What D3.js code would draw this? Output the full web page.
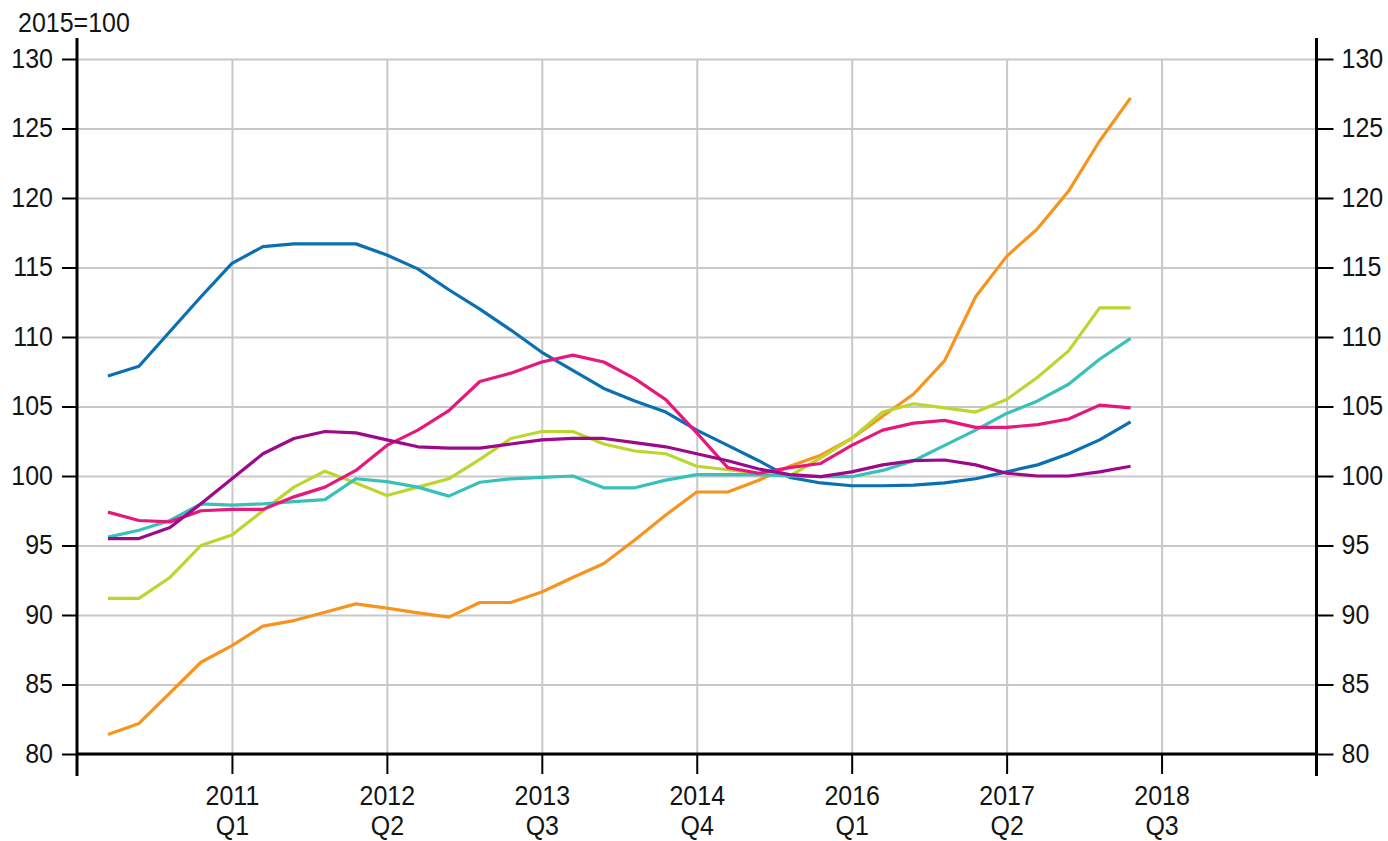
<!DOCTYPE html>
<html>
<head>
<meta charset="utf-8">
<script src="https://cdn.jsdelivr.net/npm/d3@7"></script>
<style>
  body { margin: 0; background: #fff; }
  text { font-family: "Liberation Sans", Arial, sans-serif; fill: #141414; }
</style>
</head>
<body>
<svg id="chart" width="1388" height="841"></svg>
<script>
// --- data: quarterly index, 2015=100 (2010Q1 .. 2018Q2) ---
const quarters = [];
for (let yr = 2010; yr <= 2018; yr++) {
  for (let q = 1; q <= 4; q++) {
    if (yr === 2018 && q > 2) break;
    quarters.push(yr + "Q" + q);
  }
}

const tickIdx = [4, 9, 14, 19, 24, 29, 34];
const tickYears = ["2011", "2012", "2013", "2014", "2016", "2017", "2018"];
const tickQtrs = ["Q1", "Q2", "Q3", "Q4", "Q1", "Q2", "Q3"];
const yTicks = [80, 85, 90, 95, 100, 105, 110, 115, 120, 125, 130];

const blueVals = [107.2,107.9,110.4,112.9,115.3,116.5,116.7,116.7,116.7,115.9,
  114.9,113.4,112.0,110.5,108.9,107.6,106.3,105.4,104.6,103.3,
  102.2,101.1,99.9,99.5,99.3,99.3,99.35,99.5,99.8,100.3,
  100.8,101.6,102.6,103.9];
const orangeVals = [81.4,82.2,84.4,86.6,87.8,89.2,89.6,90.2,90.8,90.5,
  90.15,89.85,90.9,90.9,91.65,92.7,93.7,95.4,97.2,98.85,
  98.85,99.7,100.7,101.5,102.7,104.3,105.9,108.3,112.9,115.8,
  117.8,120.5,124.1,127.2];
const limeVals = [91.2,91.2,92.7,95.0,95.75,97.5,99.2,100.35,99.5,98.6,
  99.2,99.8,101.2,102.7,103.2,103.2,102.3,101.8,101.6,100.7,
  100.45,100.2,100.0,101.3,102.7,104.6,105.2,104.9,104.6,105.5,
  107.1,109.0,112.1,112.1];
const tealVals = [95.6,96.1,96.8,98.0,97.9,98.0,98.15,98.3,99.8,99.6,
  99.2,98.55,99.55,99.8,99.9,100.0,99.15,99.15,99.7,100.1,
  100.1,100.1,100.0,99.95,99.95,100.4,101.1,102.2,103.3,104.5,
  105.4,106.6,108.4,109.9];
const pinkVals = [97.4,96.8,96.7,97.5,97.6,97.6,98.5,99.2,100.4,102.2,
  103.3,104.7,106.8,107.4,108.2,108.7,108.2,107.0,105.5,103.1,
  100.6,100.2,100.6,100.9,102.2,103.3,103.8,104.0,103.5,103.5,
  103.7,104.1,105.1,104.9];
const purpleVals = [95.5,95.5,96.3,98.0,99.8,101.6,102.7,103.2,103.1,102.6,
  102.1,102.0,102.0,102.3,102.6,102.7,102.7,102.4,102.1,101.6,
  101.1,100.5,100.1,99.95,100.3,100.8,101.1,101.15,100.8,100.2,
  100.0,100.0,100.3,100.7];

const seriesList = [
  { vals: blueVals,   color: "#0a70b2" },
  { vals: orangeVals, color: "#f7941e" },
  { vals: limeVals,   color: "#bdd52f" },
  { vals: tealVals,   color: "#38c0ba" },
  { vals: pinkVals,   color: "#e6187b" },
  { vals: purpleVals, color: "#9c0a8b" }
];

// --- layout ---
const plotL = 77, plotR = 1316.5, plotT = 59, plotB = 754;
const svg = d3.select("#chart");

const x = d3.scaleLinear().domain([-1, 39]).range([plotL, plotR]);
const y = d3.scaleLinear().domain([80, 130]).range([plotB, plotT]);

// reference glyphs are a little taller than wide
const stretch = "scale(1,1.12)";

// gridlines
svg.append("g")
  .attr("transform", `translate(${plotL},0)`)
  .call(d3.axisLeft(y).tickValues(yTicks).tickSize(-(plotR - plotL)).tickFormat(""))
  .call(g => g.select(".domain").remove())
  .call(g => g.selectAll("line").attr("stroke", "#c8c8c8").attr("stroke-width", 2));

svg.append("g")
  .attr("transform", `translate(0,${plotB})`)
  .call(d3.axisBottom(x).tickValues(tickIdx).tickSize(-(plotB - plotT)).tickFormat(""))
  .call(g => g.select(".domain").remove())
  .call(g => g.selectAll("line").attr("stroke", "#c8c8c8").attr("stroke-width", 2));

// lines
const line = d3.line()
  .x((d, i) => x(i))
  .y(d => y(d));

svg.append("g").selectAll("path")
  .data(seriesList)
  .join("path")
  .attr("d", d => line(d.vals))
  .attr("fill", "none")
  .attr("stroke", d => d.color)
  .attr("stroke-width", 3.2)
  .attr("stroke-linejoin", "round");

// left axis
svg.append("g")
  .attr("transform", `translate(${plotL},0)`)
  .call(d3.axisLeft(y).tickValues(yTicks).tickSize(15).tickPadding(9))
  .call(g => g.select(".domain").remove())
  .call(g => g.selectAll("line").attr("stroke", "#000").attr("stroke-width", 2))
  .call(g => g.selectAll("text")
    .attr("font-size", "25px").attr("dy", "0.3em").attr("transform", stretch));

// right axis
svg.append("g")
  .attr("transform", `translate(${plotR},0)`)
  .call(d3.axisRight(y).tickValues(yTicks).tickSize(17).tickPadding(8))
  .call(g => g.select(".domain").remove())
  .call(g => g.selectAll("line").attr("stroke", "#000").attr("stroke-width", 2))
  .call(g => g.selectAll("text")
    .attr("font-size", "25px").attr("dy", "0.3em").attr("transform", stretch));

// bottom axis with two-line labels
svg.append("g")
  .attr("transform", `translate(0,${plotB})`)
  .call(d3.axisBottom(x).tickValues(tickIdx).tickSize(20).tickFormat(""))
  .call(g => g.select(".domain").remove())
  .call(g => g.selectAll("line").attr("stroke", "#000").attr("stroke-width", 2))
  .call(g => g.selectAll(".tick").each(function (d, i) {
    const t = d3.select(this).append("text")
      .attr("text-anchor", "middle")
      .attr("font-size", "25px")
      .attr("transform", stretch);
    t.append("tspan").attr("x", 0).attr("y", 45.5).text(tickYears[i]);
    t.append("tspan").attr("x", 0).attr("y", 72).text(tickQtrs[i]);
  }));

// axis frame lines
const frame = svg.append("g").attr("stroke", "#000").attr("stroke-width", 3);
frame.append("line").attr("x1", plotL).attr("x2", plotR).attr("y1", plotB).attr("y2", plotB);
frame.append("line").attr("x1", plotL).attr("x2", plotL).attr("y1", 38).attr("y2", 776);
frame.append("line").attr("x1", plotR).attr("x2", plotR).attr("y1", 38).attr("y2", 776);

// unit label
svg.append("text")
  .attr("x", 18).attr("y", 26)
  .attr("font-size", "25px")
  .attr("transform", "translate(0,3) " + stretch)
  .text("2015=100");
</script>
</body>
</html>
